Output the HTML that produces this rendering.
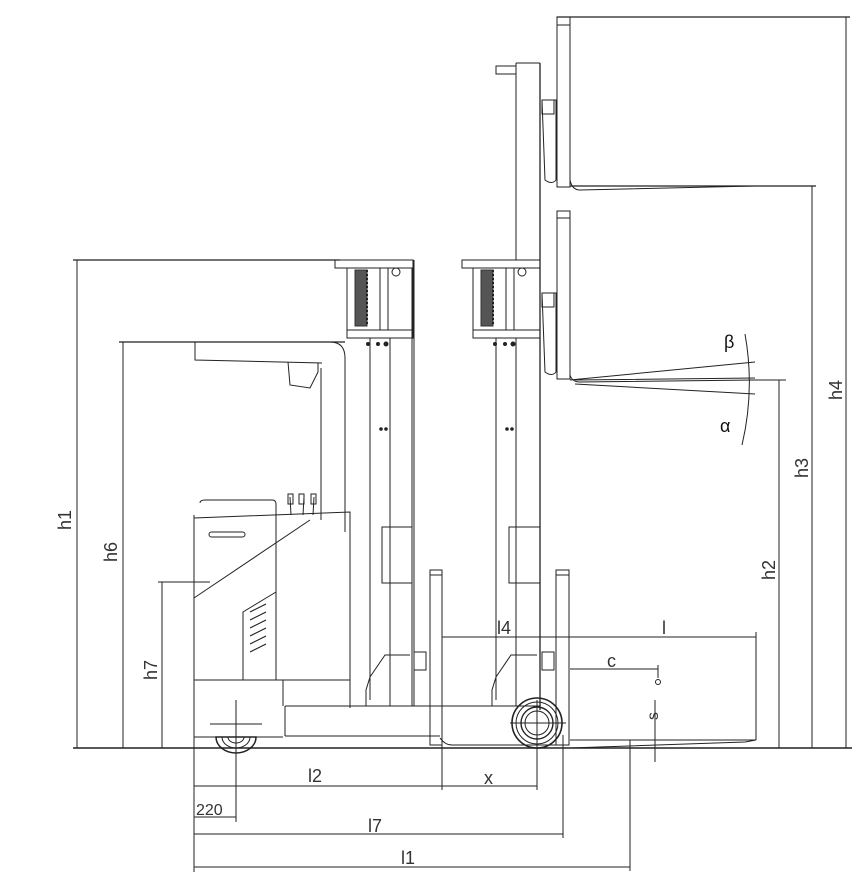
<!DOCTYPE html>
<html><head><meta charset="utf-8"><style>
html,body{margin:0;padding:0;background:#fff;}
svg{display:block;}
text{font-family:"Liberation Sans",sans-serif;fill:#333;font-weight:300;}
</style></head><body>
<svg width="866" height="883" viewBox="0 0 866 883" xmlns="http://www.w3.org/2000/svg">
<g fill="none" stroke="#222" stroke-width="1">
<line x1="73" y1="748" x2="852" y2="748" stroke-width="1.6"/>
<line x1="73" y1="260" x2="340" y2="260" stroke-width="1.3"/>
<line x1="77" y1="260" x2="77" y2="748"/>
<line x1="119" y1="342" x2="345" y2="342" stroke-width="1.3"/>
<line x1="123" y1="342" x2="123" y2="748"/>
<line x1="158" y1="582" x2="210" y2="582"/>
<line x1="162" y1="582" x2="162" y2="748"/>
<line x1="750" y1="380" x2="786" y2="380"/>
<line x1="779" y1="380" x2="779" y2="748"/>
<line x1="570" y1="186" x2="816" y2="186" stroke-width="1.2"/>
<line x1="812" y1="186" x2="812" y2="748"/>
<line x1="557" y1="17" x2="850" y2="17" stroke-width="1.2"/>
<line x1="846" y1="17" x2="846" y2="748"/>
<line x1="194" y1="596" x2="194" y2="872"/>
<line x1="194" y1="786" x2="442" y2="786"/>
<line x1="442" y1="786" x2="537" y2="786"/>
<line x1="442" y1="630" x2="442" y2="790"/>
<line x1="537" y1="700" x2="537" y2="790"/>
<line x1="236" y1="700" x2="236" y2="822"/>
<line x1="194" y1="817" x2="236" y2="817"/>
<line x1="194" y1="834" x2="563" y2="834"/>
<line x1="563" y1="735" x2="563" y2="838"/>
<line x1="194" y1="867" x2="630" y2="867"/>
<line x1="630" y1="740" x2="630" y2="871"/>
<line x1="442" y1="637" x2="756" y2="637"/>
<line x1="756" y1="632" x2="756" y2="740"/>
<line x1="570" y1="669" x2="658" y2="669"/>
<line x1="658" y1="665" x2="658" y2="678"/>
<circle cx="658" cy="682" r="2.5"/>
<line x1="655" y1="700" x2="655" y2="762"/>

<path d="M195 342 H330 Q345 342 345 358 V532"/>
<path d="M195 342 V360 L322 363"/>
<path d="M288 362 L290 385 L310 388 L318 372 V363" />
<line x1="321" y1="368" x2="321" y2="520"/>
<path d="M194 515 V745"/>
<path d="M200 503 Q200 500 205 500 H272 Q276 500 276 504 V520"/>
<path d="M194 518 L350 512 V708"/>
<rect x="209" y="532" width="36" height="5" rx="2.5"/>
<line x1="194" y1="598" x2="310" y2="520"/>
<line x1="276" y1="518" x2="276" y2="680"/>
<path d="M243 680 V612 L276 592"/>
<g stroke-width="1.2">
<line x1="250" y1="612" x2="266" y2="604"/><line x1="250" y1="620" x2="266" y2="612"/>
<line x1="250" y1="628" x2="266" y2="620"/><line x1="250" y1="636" x2="266" y2="628"/>
<line x1="250" y1="644" x2="266" y2="636"/><line x1="250" y1="652" x2="266" y2="644"/>
</g>
<path d="M291 515 L290 497 M303 515 L304 497 M313 515 L314 497"/>
<rect x="288" y="494" width="5" height="10"/><rect x="299" y="494" width="5" height="10"/><rect x="311" y="494" width="5" height="10"/>
<line x1="194" y1="680" x2="283" y2="680"/>
<line x1="283" y1="680" x2="283" y2="706"/>
<line x1="283" y1="680" x2="350" y2="680"/>
<line x1="194" y1="737" x2="283" y2="737"/>
<path d="M216 737 A20 16 0 0 0 256 737 Z" stroke-width="1.5"/>
<path d="M222 737 A14 11 0 0 0 250 737 M228 737 A8 6 0 0 0 244 737"/>
<line x1="210" y1="724" x2="262" y2="724"/>
<path d="M285 706 H540 M285 736 H440 M285 706 V736"/>
<rect x="335" y="260" width="78" height="8"/>
<rect x="347" y="268" width="66" height="70"/>
<line x1="347" y1="330" x2="413" y2="330"/>
<rect x="355" y="270" width="12" height="56" fill="#555" stroke="#333"/>
<line x1="367" y1="270" x2="367" y2="326" stroke-width="2" stroke-dasharray="2 2"/>
<line x1="380" y1="268" x2="380" y2="330"/><line x1="388" y1="268" x2="388" y2="330"/>
<circle cx="396" cy="272" r="4"/>
<circle cx="368" cy="344" r="1.5" fill="#222"/><circle cx="378" cy="344" r="1.5" fill="#222"/><circle cx="386" cy="344" r="2" fill="#222"/>
<circle cx="381" cy="429" r="1.3" fill="#222"/><circle cx="386" cy="429" r="1.3" fill="#222"/>
<line x1="370" y1="338" x2="370" y2="700"/>
<line x1="390" y1="338" x2="390" y2="706"/>
<line x1="412" y1="268" x2="412" y2="706"/>
<line x1="414" y1="260" x2="414" y2="706"/>
<rect x="382" y="527" width="30" height="56"/>
<path d="M370 677 L385 655 H410 M366 706 V690 L370 677"/>
<rect x="414" y="652" width="12" height="18"/>
<rect x="430" y="570" width="12" height="175"/>
<line x1="430" y1="575" x2="442" y2="575"/>

<rect x="462" y="260" width="78" height="8"/>
<rect x="473" y="268" width="67" height="70"/>
<line x1="473" y1="330" x2="540" y2="330"/>
<rect x="481" y="270" width="12" height="56" fill="#555" stroke="#333"/>
<line x1="493" y1="270" x2="493" y2="326" stroke-width="2" stroke-dasharray="2 2"/>
<line x1="506" y1="268" x2="506" y2="330"/><line x1="514" y1="268" x2="514" y2="330"/>
<circle cx="522" cy="272" r="4"/>
<circle cx="495" cy="344" r="1.5" fill="#222"/><circle cx="505" cy="344" r="1.5" fill="#222"/><circle cx="513" cy="344" r="2" fill="#222"/>
<circle cx="507" cy="429" r="1.3" fill="#222"/><circle cx="512" cy="429" r="1.3" fill="#222"/>
<line x1="496" y1="338" x2="496" y2="700"/>
<line x1="516" y1="338" x2="516" y2="706"/>
<line x1="540" y1="63" x2="540" y2="710" stroke-width="1.3"/>
<line x1="516" y1="63" x2="516" y2="260"/>
<line x1="516" y1="63" x2="540" y2="63"/>
<rect x="496" y="66" width="20" height="8"/>
<rect x="509" y="527" width="31" height="56"/>
<path d="M496 677 L511 655 H537 M492 706 V690 L496 677"/>
<circle cx="537" cy="723" r="25" stroke-width="1.6"/>
<circle cx="537" cy="723" r="21"/>
<circle cx="537" cy="723" r="16" stroke-width="1.4"/>
<circle cx="537" cy="723" r="12"/>
<line x1="510" y1="723" x2="566" y2="723"/>
<rect x="556" y="570" width="13" height="175"/>
<line x1="556" y1="575" x2="569" y2="575"/>
<rect x="542" y="652" width="12" height="18"/>
<path d="M570 740 H756 L745 742 L570 748"/>
<path d="M440 738 Q445 745 452 745 H560"/>
<rect x="557" y="17" width="13" height="170"/>
<line x1="557" y1="25" x2="570" y2="25"/>
<path d="M570 180 Q572 190 580 190 L755 186"/>
<path d="M542 100 H556 V180 Q552 185 545 180 Z"/>
<rect x="542" y="100" width="12" height="14"/>
<rect x="557" y="211" width="13" height="168"/>
<line x1="557" y1="218" x2="570" y2="218"/>
<path d="M542 293 H556 V372 Q552 377 545 372 Z"/>
<rect x="542" y="293" width="12" height="14"/>
<path d="M570 375 Q572 382 580 382 L755 380"/>
<path d="M570 380 L755 362 M575 384 L755 394 M575 380 L755 378"/>
<path d="M745 334 Q755 390 742 445"/>
</g>
<g font-size="18">
<text transform="translate(71,530) rotate(-90)">h1</text>
<text transform="translate(117,562) rotate(-90)">h6</text>
<text transform="translate(157,680) rotate(-90)">h7</text>
<text transform="translate(775,580) rotate(-90)">h2</text>
<text transform="translate(808,478) rotate(-90)">h3</text>
<text transform="translate(842,400) rotate(-90)">h4</text>
<text x="308" y="782">l2</text>
<text x="484" y="784">x</text>
<text x="196" y="815" font-size="16">220</text>
<text x="368" y="832">l7</text>
<text x="401" y="864">l1</text>
<text x="497" y="634">l4</text>
<text x="662" y="634">l</text>
<text x="607" y="667">c</text>
<text transform="translate(658,720) rotate(-90)" font-size="16">s</text>
<text x="724" y="348" font-family="Liberation Serif,serif" style="fill:#111">β</text>
<text x="720" y="432" font-family="Liberation Serif,serif" style="fill:#111">α</text>
</g>
</svg>
</body></html>
